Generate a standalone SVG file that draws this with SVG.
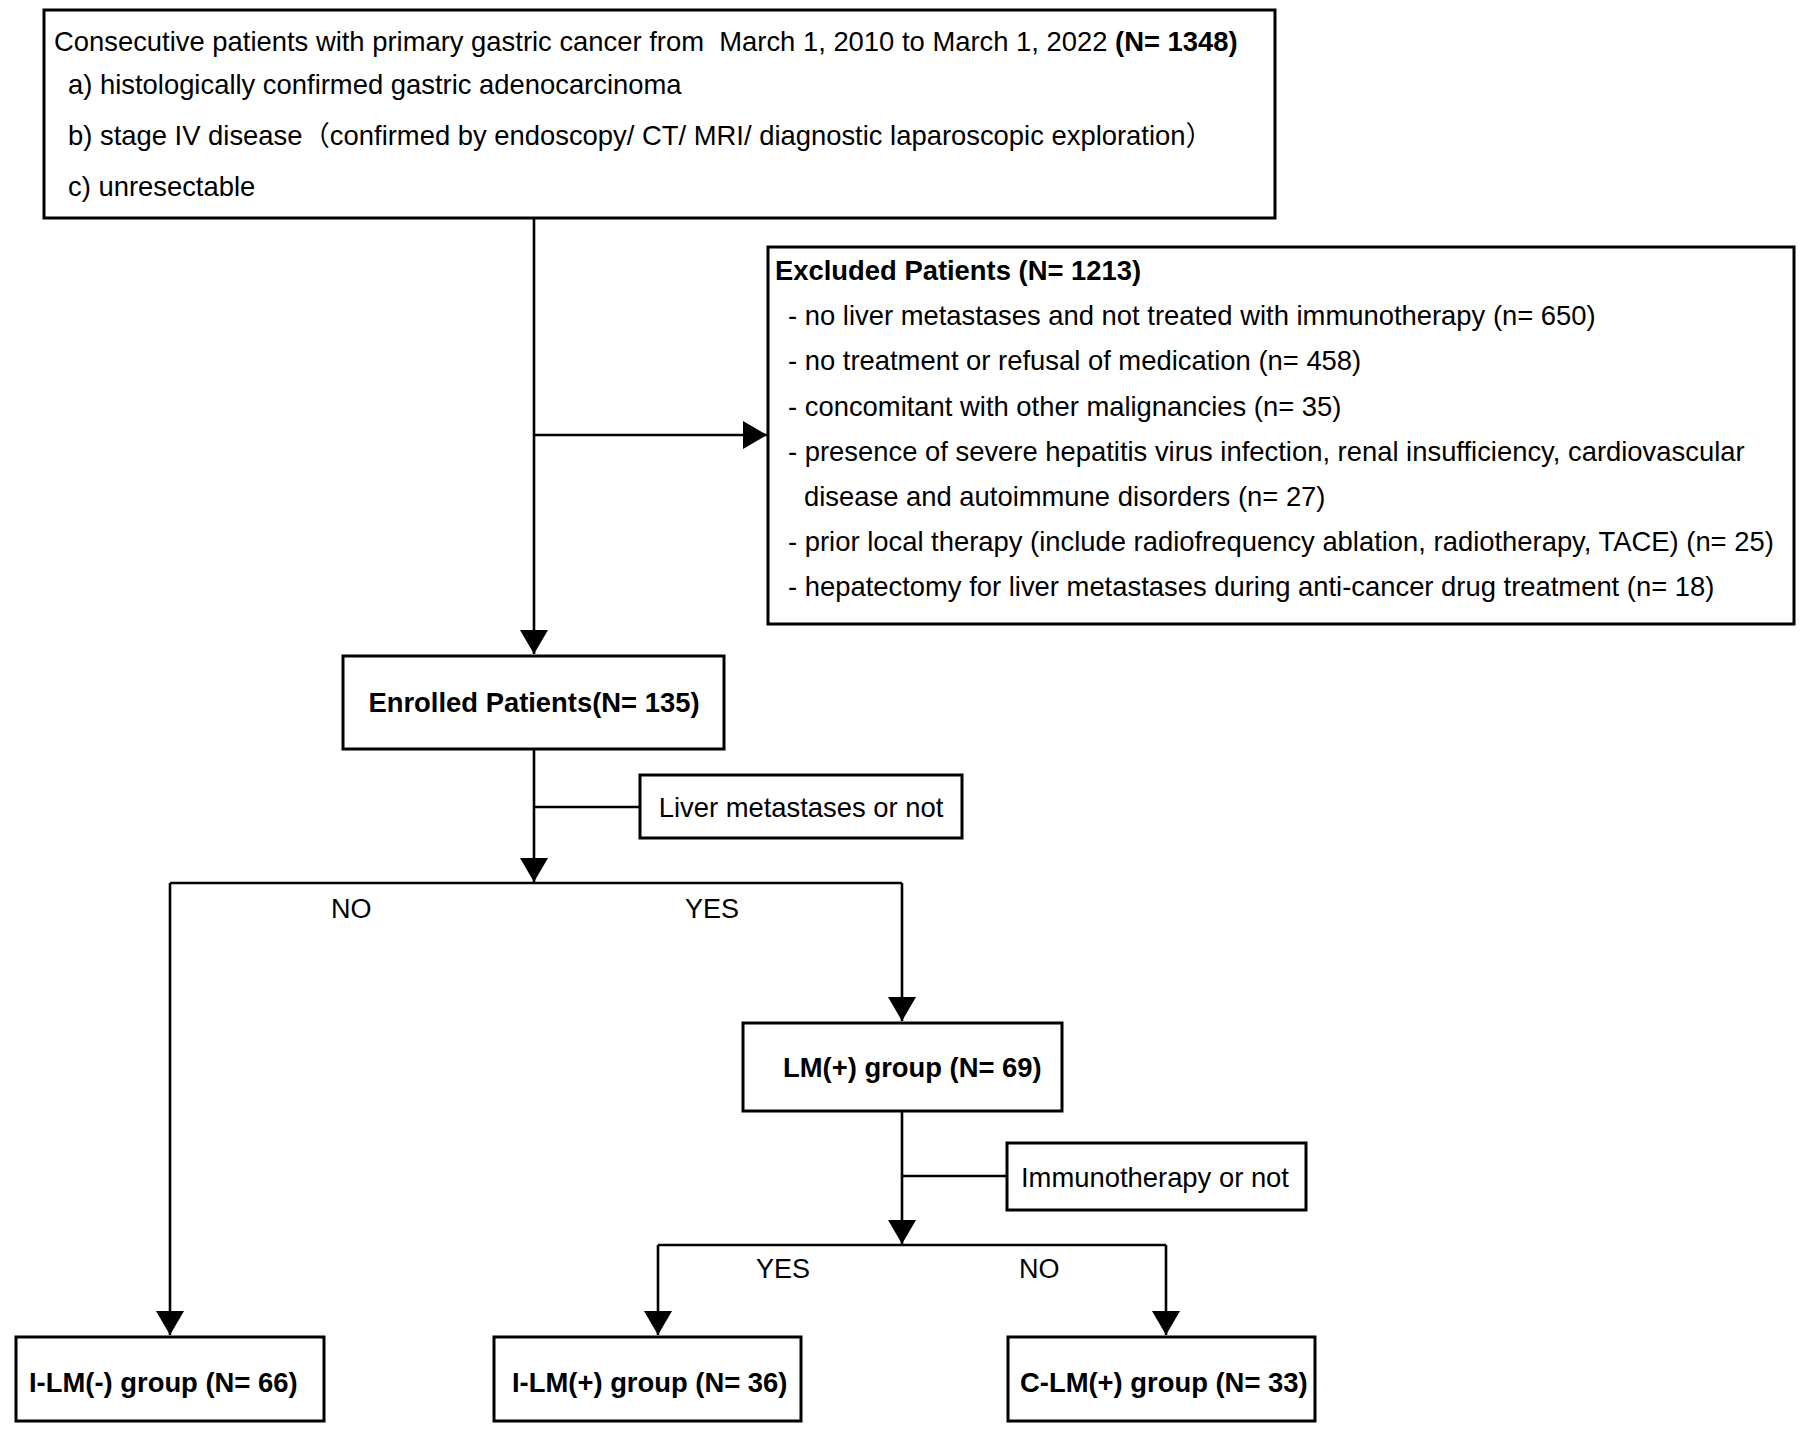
<svg xmlns="http://www.w3.org/2000/svg" width="1812" height="1436" viewBox="0 0 1812 1436">
<defs>
<style>
text{font-family:"Liberation Sans","Noto Sans CJK SC",Arial,sans-serif;font-size:27.4px;fill:#000;white-space:pre}
.b{font-weight:bold}
.n{font-size:27px}
.box{fill:#fff;stroke:#000;stroke-width:3}
.ln{fill:none;stroke:#000;stroke-width:2.6}
</style>
<marker id="ah" markerUnits="userSpaceOnUse" markerWidth="24" markerHeight="28" viewBox="0 0 24 28" refX="24" refY="14" orient="auto">
<path d="M0,0 L24,14 L0,28 Z" fill="#000"/>
</marker>
</defs>
<rect width="1812" height="1436" fill="#fff"/>
<g id="connectors">
<path class="ln" d="M534,218 V654" marker-end="url(#ah)"/>
<path class="ln" d="M534,435 H767" marker-end="url(#ah)"/>
<path class="ln" d="M534,750 V882" marker-end="url(#ah)"/>
<path class="ln" d="M534,807 H640"/>
<path class="ln" d="M170,883 H902"/>
<path class="ln" d="M170,883 V1335" marker-end="url(#ah)"/>
<path class="ln" d="M902,883 V1021" marker-end="url(#ah)"/>
<path class="ln" d="M902,1111 V1244" marker-end="url(#ah)"/>
<path class="ln" d="M902,1176 H1007"/>
<path class="ln" d="M658,1245 H1166"/>
<path class="ln" d="M658,1245 V1335" marker-end="url(#ah)"/>
<path class="ln" d="M1166,1245 V1335" marker-end="url(#ah)"/>
</g>
<g id="labels">
<text class="n" x="331" y="918">NO</text>
<text class="n" x="685" y="918">YES</text>
<text class="n" x="756" y="1278">YES</text>
<text class="n" x="1019" y="1278">NO</text>
</g>
<g id="node-source">
<rect class="box" x="44" y="10" width="1231" height="208"/>
<text x="54" y="51" xml:space="preserve">Consecutive patients with primary gastric cancer from  March 1, 2010 to March 1, 2022 <tspan class="b">(N= 1348)</tspan></text>
<text x="68" y="94">a) histologically confirmed gastric adenocarcinoma</text>
<text x="68" y="145">b) stage IV disease（confirmed by endoscopy/ CT/ MRI/ diagnostic laparoscopic exploration）</text>
<text x="68" y="196">c) unresectable</text>
</g>
<g id="node-excluded">
<rect class="box" x="768" y="247" width="1026" height="377"/>
<text class="b" x="775" y="280">Excluded Patients (N= 1213)</text>
<text x="788" y="325">- no liver metastases and not treated with immunotherapy (n= 650)</text>
<text x="788" y="370">- no treatment or refusal of medication (n= 458)</text>
<text x="788" y="416">- concomitant with other malignancies (n= 35)</text>
<text x="788" y="461">- presence of severe hepatitis virus infection, renal insufficiency, cardiovascular</text>
<text x="804" y="506">disease and autoimmune disorders (n= 27)</text>
<text x="788" y="551">- prior local therapy (include radiofrequency ablation, radiotherapy, TACE) (n= 25)</text>
<text x="788" y="596">- hepatectomy for liver metastases during anti-cancer drug treatment (n= 18)</text>
</g>
<g id="node-enrolled">
<rect class="box" x="343" y="656" width="381" height="93"/>
<text class="b" x="534" y="712" text-anchor="middle">Enrolled Patients(N= 135)</text>
</g>
<g id="node-liver">
<rect class="box" x="640" y="775" width="322" height="63"/>
<text x="801" y="817" text-anchor="middle">Liver metastases or not</text>
</g>
<g id="node-lmpos">
<rect class="box" x="743" y="1023" width="319" height="88"/>
<text class="b" x="783" y="1077">LM(+) group (N= 69)</text>
</g>
<g id="node-immuno">
<rect class="box" x="1007" y="1143" width="299" height="67"/>
<text x="1021" y="1187">Immunotherapy or not</text>
</g>
<g id="node-ilmneg">
<rect class="box" x="16" y="1337" width="308" height="84"/>
<text class="b" x="29" y="1392">I-LM(-) group (N= 66)</text>
</g>
<g id="node-ilmpos">
<rect class="box" x="494" y="1337" width="307" height="84"/>
<text class="b" x="512" y="1392">I-LM(+) group (N= 36)</text>
</g>
<g id="node-clmpos">
<rect class="box" x="1008" y="1337" width="307" height="84"/>
<text class="b" x="1020" y="1392">C-LM(+) group (N= 33)</text>
</g>
</svg>
